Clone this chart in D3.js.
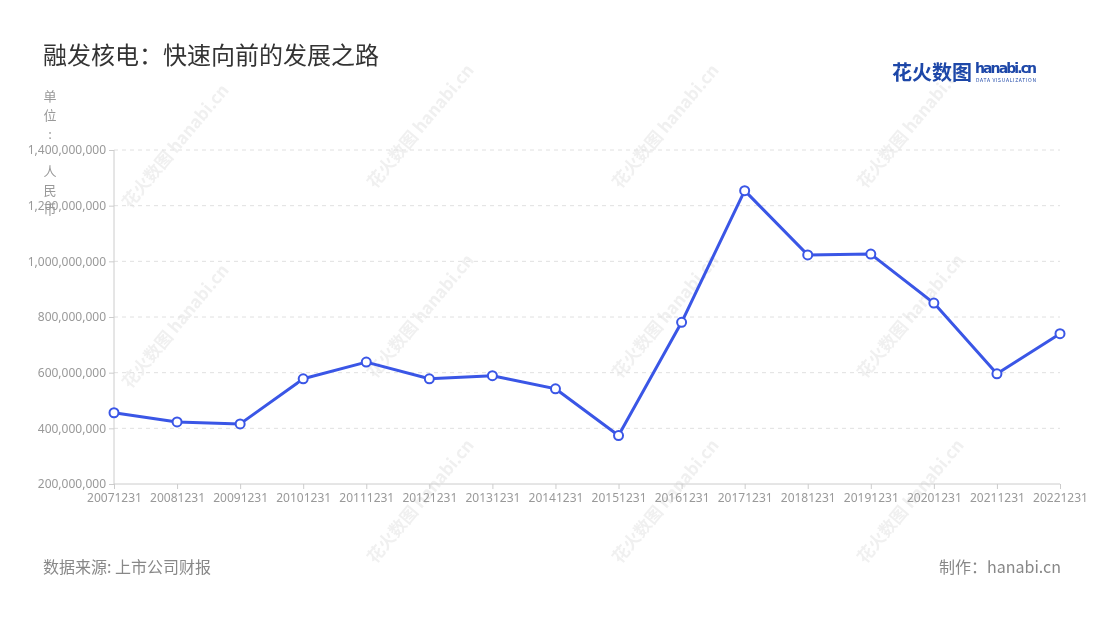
<!DOCTYPE html>
<html><head><meta charset="utf-8">
<script src="https://cdn.jsdelivr.net/npm/d3@7"></script>
<style>body{margin:0;background:#fff;}svg{display:block;font-family:"Noto Sans CJK SC","Noto Sans",sans-serif;}</style>
</head><body>
<svg id="c" width="1100" height="620"></svg>
<script>
const categories = ["20071231","20081231","20091231","20101231","20111231","20121231","20131231","20141231","20151231","20161231","20171231","20181231","20191231","20201231","20211231","20221231"];
const values = [456e6,423e6,416e6,578e6,638e6,578e6,589e6,542e6,374e6,781e6,1254e6,1023e6,1026e6,850e6,596e6,740e6];
const yTicks = [200e6,400e6,600e6,800e6,1000e6,1200e6,1400e6];
const title = "融发核电：快速向前的发展之路";
const unitLabel = "单位: 人民币";
const sourceText = "数据来源: 上市公司财报";
const makerText = "制作：hanabi.cn";

const svg = d3.select("#c");
const L=114, R=1060, T=150, B=484;
const x = d3.scalePoint().domain(categories).range([L,R]);
const y = d3.scaleLinear().domain([200e6,1400e6]).range([B,T]);

// watermarks
const wm = svg.append("g").attr("opacity",0.18);
[[180,150],[425,130],[670,130],[915,130],[180,330],[425,320],[670,320],[915,320],[425,505],[670,505],[915,505]].forEach(p=>{
  const g = wm.append("g").attr("transform",`translate(${p[0]},${p[1]}) rotate(-50)`);
  g.append("text").attr("text-anchor","middle").attr("font-size",17).attr("font-weight","bold").attr("fill","#aaa").text("花火数图 hanabi.cn");
});

// grid
svg.append("g").selectAll("line").data(yTicks.slice(1)).join("line")
  .attr("x1",L).attr("x2",R).attr("y1",d=>y(d)).attr("y2",d=>y(d))
  .attr("stroke","#e0e0e0").attr("stroke-dasharray","4,4");

// y axis
const yAxis = svg.append("g").attr("transform",`translate(${L},0)`)
  .call(d3.axisLeft(y).tickValues(yTicks).tickFormat(d3.format(",")).tickSize(5).tickPadding(3));
yAxis.select(".domain").attr("stroke","#ccc").attr("d",`M0,${T}V${B}`);
yAxis.selectAll(".tick line").attr("stroke","#ccc");
yAxis.selectAll(".tick text").attr("fill","#999").attr("font-size",12).attr("font-family","'Noto Sans',sans-serif");

// x axis
const xAxis = svg.append("g").attr("transform",`translate(0,${B})`)
  .call(d3.axisBottom(x).tickSize(5).tickPadding(4));
xAxis.select(".domain").attr("stroke","#ccc").attr("d",`M${L},0H${R}`);
xAxis.selectAll(".tick line").attr("stroke","#ccc");
xAxis.selectAll(".tick text").attr("fill","#999").attr("font-size",12).attr("font-family","'Noto Sans',sans-serif");

// unit label vertical
svg.append("g").selectAll("text").data(unitLabel.split("")).join("text")
  .attr("x",50).attr("y",(d,i)=>101+i*18.8).attr("text-anchor","middle")
  .attr("font-size",13).attr("fill","#999").text(d=>d);

// line
const line = d3.line().x((d,i)=>x(categories[i])).y(d=>y(d));
svg.append("path").datum(values).attr("d",line).attr("fill","none")
  .attr("stroke","#3a56e6").attr("stroke-width",3).attr("stroke-linejoin","round");
svg.append("g").selectAll("circle").data(values).join("circle")
  .attr("cx",(d,i)=>x(categories[i])).attr("cy",d=>y(d)).attr("r",4.5)
  .attr("fill","#fff").attr("stroke","#3a56e6").attr("stroke-width",2);

// title
svg.append("text").attr("x",43).attr("y",64).attr("font-size",24).attr("fill","#333").text(title);

// logo
svg.append("text").attr("x",892).attr("y",80).attr("font-size",20).attr("font-weight","bold").attr("fill","#1d47a8").text("花火数图");
svg.append("text").attr("x",975).attr("y",73).attr("font-size",14).attr("font-weight","bold").attr("fill","#1d47a8").attr("font-family","'DejaVu Sans',sans-serif").attr("textLength",62).text("hanabi.cn");
svg.append("text").attr("x",976).attr("y",82).attr("font-size",5).attr("fill","#1d47a8").attr("textLength",60).text("DATA VISUALIZATION");

// footer
svg.append("text").attr("x",43).attr("y",573).attr("font-size",16).attr("fill","#888").text(sourceText);
svg.append("text").attr("x",1061).attr("y",573).attr("text-anchor","end").attr("font-size",16).attr("fill","#888").text(makerText);
</script>
</body></html>
